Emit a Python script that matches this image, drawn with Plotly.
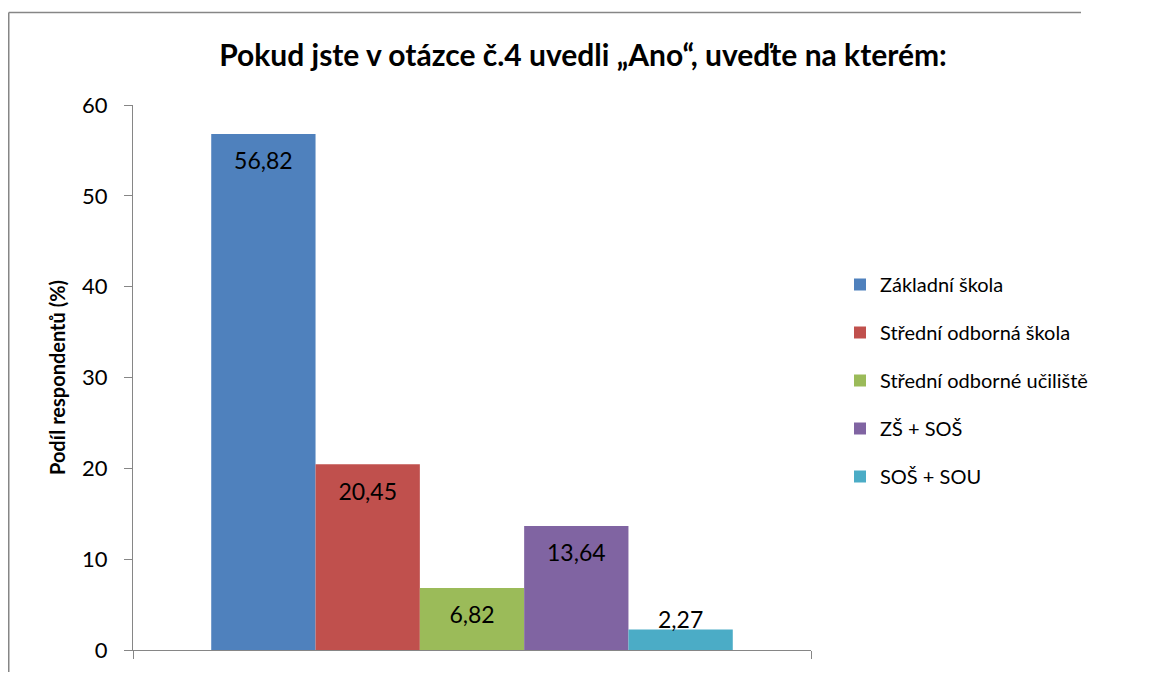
import plotly.graph_objects as go

categories = ["Základní škola", "Střední odborná škola", "Střední odborné učiliště", "ZŠ + SOŠ", "SOŠ + SOU"]
values = [56.82, 20.45, 6.82, 13.64, 2.27]
colors = ["#4F81BD", "#C0504D", "#9BBB59", "#8064A2", "#4BACC6"]
title_text = "Pokud jste v otázce č.4 uvedli „Ano“, uveďte na kterém:"
y_title = "Podíl respondentů (%)"
y_ticks = [0, 10, 20, 30, 40, 50, 60]

FONT = "Lato, Carlito, Calibri, sans-serif"
AX = "#868686"

# page has an 8px body margin; figure kept small enough that the page does not scroll
W, H = 1133, 664
L, R, T, B = 125, 330, 97, 22
PW = W - L - R   # plot width in px
PH = H - T - B   # plot height in px

fig = go.Figure()
for i, (cat, v, c) in enumerate(zip(categories, values, colors)):
    fig.add_trace(go.Bar(
        x=[i], y=[v], width=1.0, name=cat, marker=dict(color=c, line=dict(width=0)),
        legendgroup=f"g{i}", hoverinfo="skip",
    ))

# data labels (inside end; on top when the bar is too short)
label_y = [v - 3.25 if v > 6 else v + 0.8 for v in values]
label_txt = [f"{v:.2f}".replace(".", ",") for v in values]
fig.add_trace(go.Scatter(
    x=list(range(len(values))), y=label_y, mode="text", text=label_txt,
    textfont=dict(family=FONT, size=23, color="#000000"), showlegend=False, hoverinfo="skip",
))

border_left = (0.75 - L) / PW
border_right = (W - 60 - L) / PW
border_top = (T - 4.5) / PH + 1
border_bottom = -B / PH

fig.update_layout(
    width=W, height=H,
    margin=dict(l=L, r=R, t=T, b=B, autoexpand=False),
    paper_bgcolor="white", plot_bgcolor="white",
    barmode="overlay",
    font=dict(family=FONT, size=20, color="#000000"),
    title=dict(text=f"<b>{title_text}</b>", xref="paper", x=(575 - L) / PW, xanchor="center",
               yref="container", y=1 - 47 / H, yanchor="middle",
               font=dict(family=FONT, size=30, color="#000000")),
    legend=dict(x=(832 - L) / PW, xanchor="left", y=(T + PH - 257) / PH, yanchor="top",
                traceorder="grouped", tracegroupgap=19,
                font=dict(family=FONT, size=20, color="#000000"),
                bgcolor="rgba(0,0,0,0)"),
    xaxis=dict(range=[-1.25, 5.25], showgrid=False, zeroline=False, automargin=False,
               showline=True, linecolor=AX, linewidth=1.3,
               ticks="outside", tickvals=[-1.25, 5.25], ticklen=8, tickcolor=AX, tickwidth=1.3,
               showticklabels=False, fixedrange=True),
    yaxis=dict(range=[0, 60], tickvals=y_ticks, showgrid=False, zeroline=False, automargin=False,
               showline=True, linecolor=AX, linewidth=1.3,
               ticks="outside", ticklen=8, tickcolor=AX, tickwidth=1.3,
               ticklabelstandoff=12,
               tickfont=dict(family=FONT, size=22, color="#000000"),
               title=dict(text=f"<b>{y_title}</b>", standoff=10,
                          font=dict(family=FONT, size=20, color="#000000")),
               fixedrange=True),
    shapes=[
        dict(type="line", xref="paper", yref="paper",
             x0=border_left, x1=border_right, y0=border_top, y1=border_top,
             line=dict(color=AX, width=1.5), layer="below"),
        dict(type="line", xref="paper", yref="paper",
             x0=border_left, x1=border_left, y0=border_bottom, y1=border_top,
             line=dict(color=AX, width=1.5), layer="below"),
    ],
)

fig.write_html("out.html")
